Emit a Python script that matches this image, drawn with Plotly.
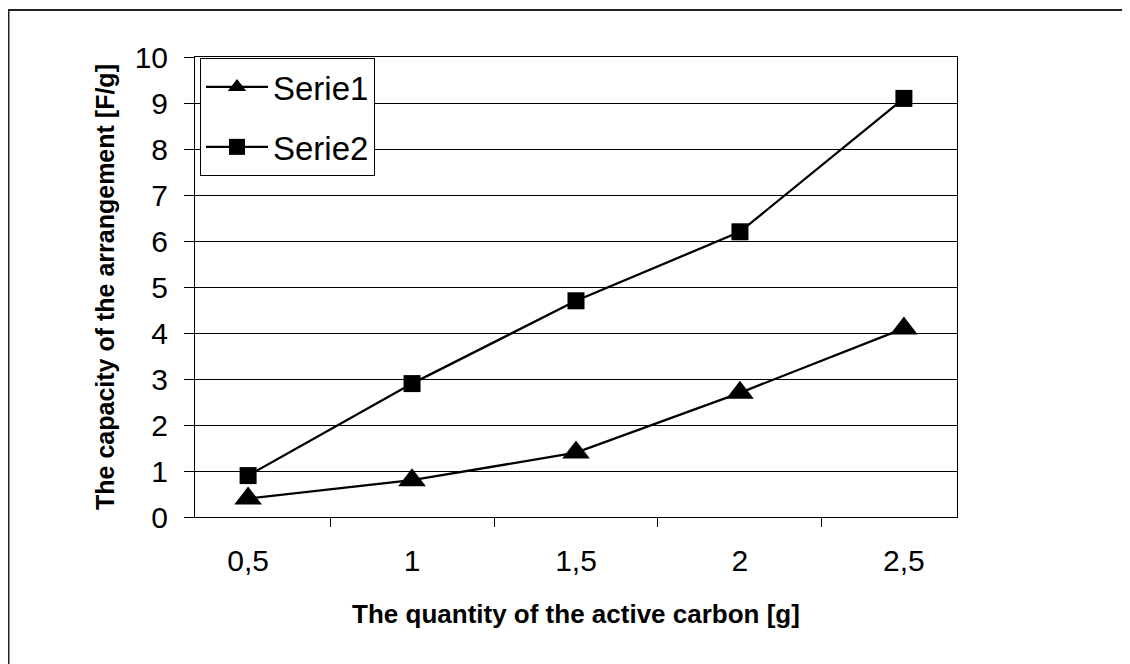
import plotly.graph_objects as go

categories = ["0,5", "1", "1,5", "2", "2,5"]
serie1 = [0.4, 0.8, 1.4, 2.7, 4.1]
serie2 = [0.9, 2.9, 4.7, 6.2, 9.1]
y_ticks = list(range(0, 11))

FONT = "Liberation Sans, Arial, sans-serif"
W, H = 1130, 664
OFF = 8  # page body margin shifts the figure on screen
L, R, T, B = 195 - OFF, 173 + OFF, 57 - OFF, 147 + OFF
pw, ph = W - L - R, H - T - B

def px_x(x):
    return (x - OFF - L) / pw

def px_y(y):
    return (H - B - (y - OFF)) / ph

fig = go.Figure()
fig.add_trace(go.Scatter(
    x=categories, y=serie1, name="Serie1", mode="lines+markers",
    line=dict(color="black", width=2.3),
    marker=dict(symbol="triangle-up", size=24, color="black"),
    legendgroup="a",
))
fig.add_trace(go.Scatter(
    x=categories, y=serie2, name="Serie2", mode="lines+markers",
    line=dict(color="black", width=2.3),
    marker=dict(symbol="square", size=17, color="black"),
    legendgroup="b",
))

fig.update_layout(
    width=W, height=H,
    margin=dict(l=L, r=R, t=T, b=B, pad=0),
    paper_bgcolor="white", plot_bgcolor="white",
    font=dict(family=FONT, color="black", size=30),
    showlegend=True,
    legend=dict(
        x=px_x(200), y=px_y(58), xanchor="left", yanchor="top",
        bgcolor="white", bordercolor="black", borderwidth=1,
        font=dict(family=FONT, size=33, color="black"),
        tracegroupgap=14, itemwidth=62,
    ),
    shapes=[dict(
        type="rect", xref="paper", yref="paper",
        x0=px_x(8.5), x1=px_x(1250), y0=px_y(760), y1=px_y(10),
        line=dict(color="#222", width=2), layer="below",
    )],
)

fig.update_xaxes(
    type="category", tickson="boundaries", ticks="outside", ticklen=9,
    tickcolor="black", tickwidth=1,
    showline=True, linecolor="black", linewidth=1, mirror=True,
    showgrid=False, zeroline=False,
    tickfont=dict(family=FONT, size=30, color="black"),
    ticklabelstandoff=17,
    title=dict(text="<b>The quantity of the active carbon [g]</b>",
               font=dict(family=FONT, size=26, color="black"), standoff=28),
)
fig.update_yaxes(
    range=[0, 10], tickvals=y_ticks, ticks="outside", ticklen=10,
    tickcolor="black", tickwidth=1,
    showline=True, linecolor="black", linewidth=1, mirror=True,
    showgrid=True, gridcolor="black", gridwidth=1, zeroline=False,
    tickfont=dict(family=FONT, size=30, color="black"),
    ticklabelstandoff=10,
    title=dict(text="<b>The capacity of the arrangement [F/g]</b>",
               font=dict(family=FONT, size=25, color="black"), standoff=12),
)

fig.write_html("out.html")
